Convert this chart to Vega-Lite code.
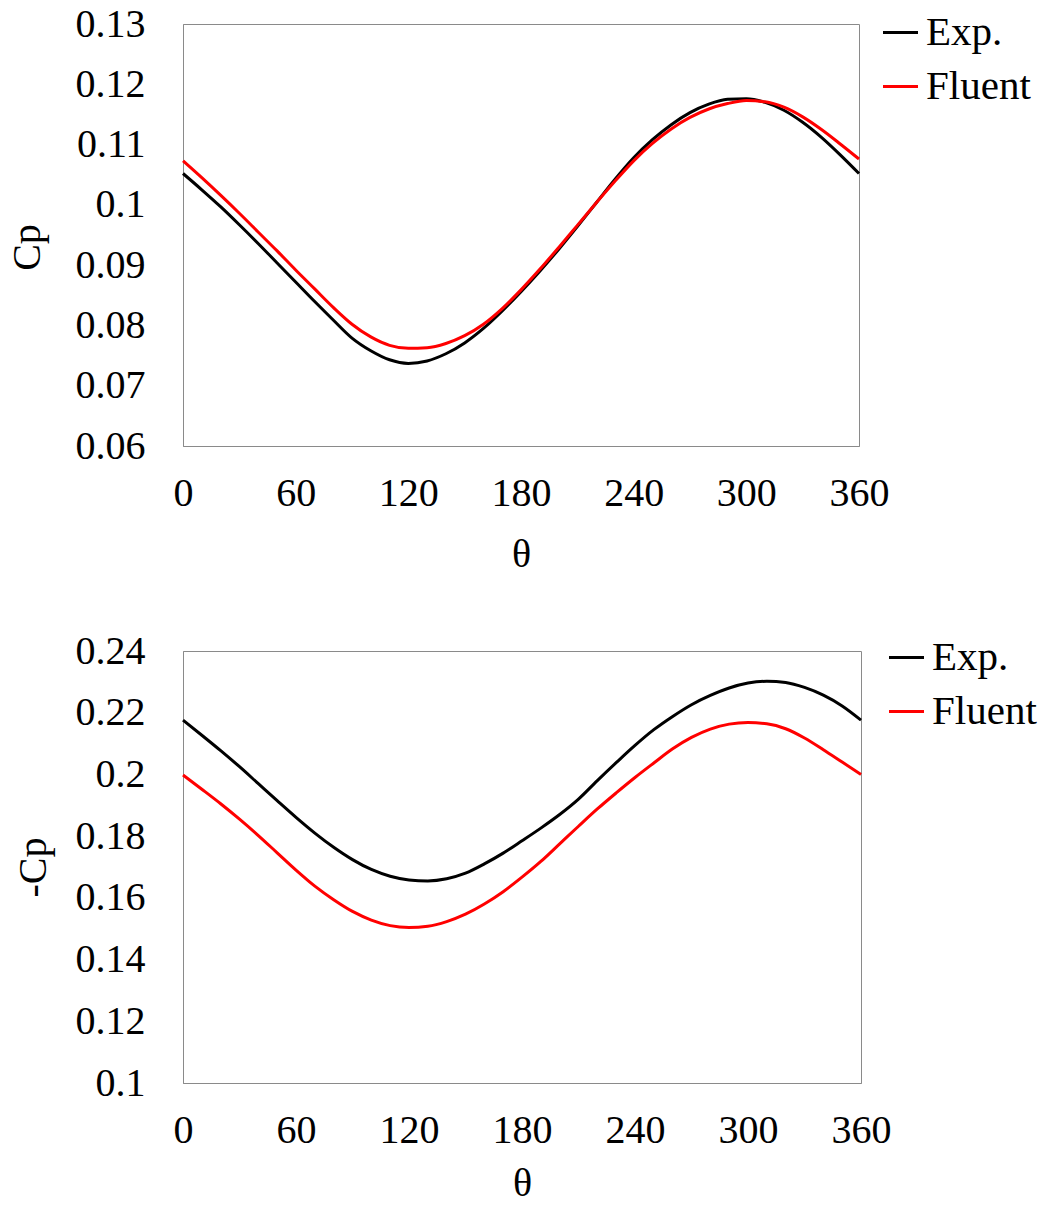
{
  "$schema": "https://vega.github.io/schema/vega-lite/v6.json",
  "background": "white",
  "padding": {"left": 6, "top": 3, "right": 5, "bottom": 2},
  "config": {
    "font": "Liberation Serif, serif",
    "view": {"stroke": "#8a8a8a", "strokeWidth": 1},
    "axis": {
      "labelFont": "Liberation Serif, serif",
      "titleFont": "Liberation Serif, serif",
      "labelFontSize": 40,
      "titleFontSize": 40,
      "labelColor": "black",
      "titleColor": "black",
      "titleFontWeight": "normal",
      "ticks": false,
      "grid": false,
      "domainColor": "#8a8a8a",
      "domainWidth": 1,
      "labelFlush": false,
      "labelOverlap": false,
      "labelBound": false
    },
    "axisX": {"labelPadding": 27, "titlePadding": 21},
    "axisY": {"labelPadding": 38, "titlePadding": 20},
    "legend": {
      "orient": "none",
      "labelFont": "Liberation Serif, serif",
      "labelFontSize": 41,
      "labelColor": "black",
      "symbolType": "stroke",
      "symbolSize": 1225,
      "symbolStrokeWidth": 3,
      "labelOffset": 5,
      "rowPadding": 12,
      "padding": 0,
      "title": null
    },
    "concat": {"spacing": 55}
  },
  "datasets": {
    "top": [
      {"theta": 0, "series": "Exp.", "v": 0.1052},
      {"theta": 10, "series": "Exp.", "v": 0.1025},
      {"theta": 20, "series": "Exp.", "v": 0.0997},
      {"theta": 30, "series": "Exp.", "v": 0.0967},
      {"theta": 40, "series": "Exp.", "v": 0.0936},
      {"theta": 50, "series": "Exp.", "v": 0.0904},
      {"theta": 60, "series": "Exp.", "v": 0.0872},
      {"theta": 70, "series": "Exp.", "v": 0.0840},
      {"theta": 80, "series": "Exp.", "v": 0.0809},
      {"theta": 90, "series": "Exp.", "v": 0.0779},
      {"theta": 100, "series": "Exp.", "v": 0.0758},
      {"theta": 110, "series": "Exp.", "v": 0.0743},
      {"theta": 120, "series": "Exp.", "v": 0.0737},
      {"theta": 130, "series": "Exp.", "v": 0.0741},
      {"theta": 140, "series": "Exp.", "v": 0.0753},
      {"theta": 150, "series": "Exp.", "v": 0.0771},
      {"theta": 160, "series": "Exp.", "v": 0.0795},
      {"theta": 170, "series": "Exp.", "v": 0.0824},
      {"theta": 180, "series": "Exp.", "v": 0.0856},
      {"theta": 190, "series": "Exp.", "v": 0.0890},
      {"theta": 200, "series": "Exp.", "v": 0.0926},
      {"theta": 210, "series": "Exp.", "v": 0.0964},
      {"theta": 220, "series": "Exp.", "v": 0.1003},
      {"theta": 230, "series": "Exp.", "v": 0.1042},
      {"theta": 240, "series": "Exp.", "v": 0.1078},
      {"theta": 250, "series": "Exp.", "v": 0.1108},
      {"theta": 260, "series": "Exp.", "v": 0.1133},
      {"theta": 270, "series": "Exp.", "v": 0.1153},
      {"theta": 280, "series": "Exp.", "v": 0.1167},
      {"theta": 290, "series": "Exp.", "v": 0.1175},
      {"theta": 300, "series": "Exp.", "v": 0.1176},
      {"theta": 310, "series": "Exp.", "v": 0.1170},
      {"theta": 320, "series": "Exp.", "v": 0.1157},
      {"theta": 330, "series": "Exp.", "v": 0.1137},
      {"theta": 340, "series": "Exp.", "v": 0.1112},
      {"theta": 350, "series": "Exp.", "v": 0.1083},
      {"theta": 360, "series": "Exp.", "v": 0.1052},
      {"theta": 0, "series": "Fluent", "v": 0.1073},
      {"theta": 10, "series": "Fluent", "v": 0.1045},
      {"theta": 20, "series": "Fluent", "v": 0.1016},
      {"theta": 30, "series": "Fluent", "v": 0.0986},
      {"theta": 40, "series": "Fluent", "v": 0.0955},
      {"theta": 50, "series": "Fluent", "v": 0.0924},
      {"theta": 60, "series": "Fluent", "v": 0.0892},
      {"theta": 70, "series": "Fluent", "v": 0.0861},
      {"theta": 80, "series": "Fluent", "v": 0.0830},
      {"theta": 90, "series": "Fluent", "v": 0.0802},
      {"theta": 100, "series": "Fluent", "v": 0.0781},
      {"theta": 110, "series": "Fluent", "v": 0.0767},
      {"theta": 120, "series": "Fluent", "v": 0.0762},
      {"theta": 130, "series": "Fluent", "v": 0.0763},
      {"theta": 140, "series": "Fluent", "v": 0.0770},
      {"theta": 150, "series": "Fluent", "v": 0.0783},
      {"theta": 160, "series": "Fluent", "v": 0.0802},
      {"theta": 170, "series": "Fluent", "v": 0.0828},
      {"theta": 180, "series": "Fluent", "v": 0.0859},
      {"theta": 190, "series": "Fluent", "v": 0.0893},
      {"theta": 200, "series": "Fluent", "v": 0.0929},
      {"theta": 210, "series": "Fluent", "v": 0.0966},
      {"theta": 220, "series": "Fluent", "v": 0.1003},
      {"theta": 230, "series": "Fluent", "v": 0.1039},
      {"theta": 240, "series": "Fluent", "v": 0.1073},
      {"theta": 250, "series": "Fluent", "v": 0.1102},
      {"theta": 260, "series": "Fluent", "v": 0.1126},
      {"theta": 270, "series": "Fluent", "v": 0.1145},
      {"theta": 280, "series": "Fluent", "v": 0.1159},
      {"theta": 290, "series": "Fluent", "v": 0.1168},
      {"theta": 300, "series": "Fluent", "v": 0.1173},
      {"theta": 310, "series": "Fluent", "v": 0.1171},
      {"theta": 320, "series": "Fluent", "v": 0.1162},
      {"theta": 330, "series": "Fluent", "v": 0.1146},
      {"theta": 340, "series": "Fluent", "v": 0.1125},
      {"theta": 350, "series": "Fluent", "v": 0.1101},
      {"theta": 360, "series": "Fluent", "v": 0.1076}
    ],
    "bottom": [
      {"theta": 0, "series": "Exp.", "v": 0.2176},
      {"theta": 10, "series": "Exp.", "v": 0.2127},
      {"theta": 20, "series": "Exp.", "v": 0.2077},
      {"theta": 30, "series": "Exp.", "v": 0.2025},
      {"theta": 40, "series": "Exp.", "v": 0.1970},
      {"theta": 50, "series": "Exp.", "v": 0.1915},
      {"theta": 60, "series": "Exp.", "v": 0.1861},
      {"theta": 70, "series": "Exp.", "v": 0.1810},
      {"theta": 80, "series": "Exp.", "v": 0.1764},
      {"theta": 90, "series": "Exp.", "v": 0.1724},
      {"theta": 100, "series": "Exp.", "v": 0.1692},
      {"theta": 110, "series": "Exp.", "v": 0.1670},
      {"theta": 120, "series": "Exp.", "v": 0.1658},
      {"theta": 130, "series": "Exp.", "v": 0.1655},
      {"theta": 140, "series": "Exp.", "v": 0.1662},
      {"theta": 150, "series": "Exp.", "v": 0.1680},
      {"theta": 160, "series": "Exp.", "v": 0.1710},
      {"theta": 170, "series": "Exp.", "v": 0.1745},
      {"theta": 180, "series": "Exp.", "v": 0.1785},
      {"theta": 190, "series": "Exp.", "v": 0.1826},
      {"theta": 200, "series": "Exp.", "v": 0.1870},
      {"theta": 210, "series": "Exp.", "v": 0.1920},
      {"theta": 220, "series": "Exp.", "v": 0.1980},
      {"theta": 230, "series": "Exp.", "v": 0.2038},
      {"theta": 240, "series": "Exp.", "v": 0.2094},
      {"theta": 250, "series": "Exp.", "v": 0.2145},
      {"theta": 260, "series": "Exp.", "v": 0.2188},
      {"theta": 270, "series": "Exp.", "v": 0.2226},
      {"theta": 280, "series": "Exp.", "v": 0.2256},
      {"theta": 290, "series": "Exp.", "v": 0.2280},
      {"theta": 300, "series": "Exp.", "v": 0.2296},
      {"theta": 310, "series": "Exp.", "v": 0.2302},
      {"theta": 320, "series": "Exp.", "v": 0.2298},
      {"theta": 330, "series": "Exp.", "v": 0.2282},
      {"theta": 340, "series": "Exp.", "v": 0.2257},
      {"theta": 350, "series": "Exp.", "v": 0.2222},
      {"theta": 360, "series": "Exp.", "v": 0.2176},
      {"theta": 0, "series": "Fluent", "v": 0.1998},
      {"theta": 10, "series": "Fluent", "v": 0.1952},
      {"theta": 20, "series": "Fluent", "v": 0.1905},
      {"theta": 30, "series": "Fluent", "v": 0.1855},
      {"theta": 40, "series": "Fluent", "v": 0.1802},
      {"theta": 50, "series": "Fluent", "v": 0.1746},
      {"theta": 60, "series": "Fluent", "v": 0.1690},
      {"theta": 70, "series": "Fluent", "v": 0.1638},
      {"theta": 80, "series": "Fluent", "v": 0.1594},
      {"theta": 90, "series": "Fluent", "v": 0.1556},
      {"theta": 100, "series": "Fluent", "v": 0.1528},
      {"theta": 110, "series": "Fluent", "v": 0.1510},
      {"theta": 120, "series": "Fluent", "v": 0.1504},
      {"theta": 130, "series": "Fluent", "v": 0.1508},
      {"theta": 140, "series": "Fluent", "v": 0.1523},
      {"theta": 150, "series": "Fluent", "v": 0.1547},
      {"theta": 160, "series": "Fluent", "v": 0.1580},
      {"theta": 170, "series": "Fluent", "v": 0.1620},
      {"theta": 180, "series": "Fluent", "v": 0.1667},
      {"theta": 190, "series": "Fluent", "v": 0.1718},
      {"theta": 200, "series": "Fluent", "v": 0.1775},
      {"theta": 210, "series": "Fluent", "v": 0.1832},
      {"theta": 220, "series": "Fluent", "v": 0.1888},
      {"theta": 230, "series": "Fluent", "v": 0.1940},
      {"theta": 240, "series": "Fluent", "v": 0.1990},
      {"theta": 250, "series": "Fluent", "v": 0.2037},
      {"theta": 260, "series": "Fluent", "v": 0.2083},
      {"theta": 270, "series": "Fluent", "v": 0.2120},
      {"theta": 280, "series": "Fluent", "v": 0.2147},
      {"theta": 290, "series": "Fluent", "v": 0.2163},
      {"theta": 300, "series": "Fluent", "v": 0.2168},
      {"theta": 310, "series": "Fluent", "v": 0.2164},
      {"theta": 320, "series": "Fluent", "v": 0.2148},
      {"theta": 330, "series": "Fluent", "v": 0.2118},
      {"theta": 340, "series": "Fluent", "v": 0.2080},
      {"theta": 350, "series": "Fluent", "v": 0.2040},
      {"theta": 360, "series": "Fluent", "v": 0.2000}
    ]
  },
  "vconcat": [
    {
      "width": 676,
      "height": 422,
      "data": {"name": "top"},
      "mark": {"type": "line", "strokeWidth": 3, "interpolate": "monotone"},
      "encoding": {
        "x": {"field": "theta", "type": "quantitative", "scale": {"domain": [0, 360], "nice": false}, "axis": {"values": [0, 60, 120, 180, 240, 300, 360], "title": "θ"}},
        "y": {"field": "v", "type": "quantitative", "scale": {"domain": [0.06, 0.13], "nice": false, "zero": false}, "axis": {"values": [0.06, 0.07, 0.08, 0.09, 0.1, 0.11, 0.12, 0.13], "format": ".2~f", "title": "Cp", "titlePadding": 28, "titleY": 223}},
        "color": {"field": "series", "type": "nominal", "scale": {"domain": ["Exp.", "Fluent"], "range": ["#000000", "#ff0000"]}, "legend": {"legendX": 697, "legendY": -12}}
      }
    },
    {
      "width": 678,
      "height": 432,
      "data": {"name": "bottom"},
      "mark": {"type": "line", "strokeWidth": 3, "interpolate": "monotone"},
      "encoding": {
        "x": {"field": "theta", "type": "quantitative", "scale": {"domain": [0, 360], "nice": false}, "axis": {"values": [0, 60, 120, 180, 240, 300, 360], "title": "θ", "titlePadding": 13}},
        "y": {"field": "v", "type": "quantitative", "scale": {"domain": [0.1, 0.24], "nice": false, "zero": false}, "axis": {"values": [0.1, 0.12, 0.14, 0.16, 0.18, 0.2, 0.22, 0.24], "format": ".2~f", "title": "-Cp", "titlePadding": 22}},
        "color": {"field": "series", "type": "nominal", "scale": {"domain": ["Exp.", "Fluent"], "range": ["#000000", "#ff0000"]}, "legend": {"legendX": 703, "legendY": -14}}
      }
    }
  ],
  "resolve": {"legend": {"color": "independent"}, "scale": {"color": "independent"}}
}
